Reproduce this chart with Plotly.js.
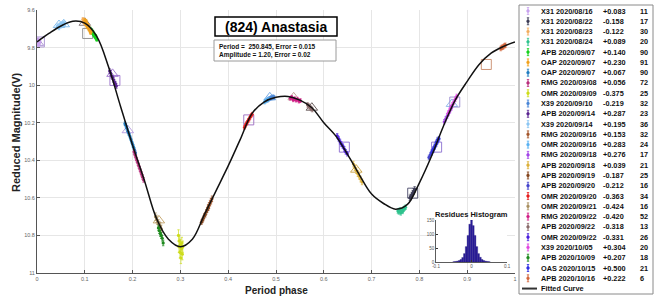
<!DOCTYPE html>
<html><head><meta charset="utf-8">
<script src="https://cdn.plot.ly/plotly-3.0.1.min.js"></script>
<style>html,body{margin:0;padding:0;background:#fff}#chart{width:655px;height:298px}</style>
</head><body><div id="chart"></div>
<script>
// ---------- data ----------
const sessionLabels = ["X31 2020/08/16","X31 2020/08/22","X31 2020/08/23","X31 2020/08/24","APB 2020/09/07","OAP 2020/09/07","OAP 2020/09/07","RMG 2020/09/08","OMR 2020/09/09","X39 2020/09/10","APB 2020/09/14","X39 2020/09/14","RMG 2020/09/16","OMR 2020/09/16","RMG 2020/09/18","APB 2020/09/18","APB 2020/09/19","APB 2020/09/20","OMR 2020/09/20","OMR 2020/09/21","RMG 2020/09/22","APB 2020/09/22","OMR 2020/09/22","X39 2020/10/05","APB 2020/10/09","OAS 2020/10/15","APB 2020/10/16"];
const sessionOffsets = ["+0.083","-0.158","-0.122","+0.089","+0.140","+0.230","+0.067","+0.056","-0.375","-0.219","+0.287","+0.195","+0.153","+0.283","+0.276","+0.039","-0.187","-0.212","-0.363","-0.424","-0.420","-0.318","-0.331","+0.304","+0.207","+0.500","+0.222"];
const sessionCounts = [11,17,30,20,90,91,90,72,25,32,23,36,32,24,17,21,25,16,34,16,52,13,26,20,18,21,6];
const sessionErr = [0.012,0.015,0.010,0.012,0.008,0.010,0.010,0.012,0.030,0.010,0.012,0.010,0.015,0.010,0.012,0.015,0.012,0.012,0.010,0.020,0.010,0.012,0.012,0.012,0.015,0.012,0.012];

const sessionPhases = [
 [0.001,0.002,0.003,0.004,0.005,0.006,0.003,0.005],
 [0.780,0.782,0.784,0.786,0.788,0.790],
 [0.096,0.097,0.098,0.099,0.100,0.101,0.102],
 [0.755,0.757,0.759,0.761,0.763,0.765,0.767,0.769,0.771],
 [0.112,0.113,0.114,0.115,0.116,0.117,0.118,0.119,0.120,0.121,0.122,0.123,0.124,0.125],
 [0.100,0.101,0.102,0.103,0.104,0.105,0.106,0.107,0.108,0.109,0.110,0.111,0.112,0.113],
 [0.184,0.186,0.188,0.190,0.192,0.194,0.196,0.198,0.200,0.202,0.204,0.206],
 [0.203,0.205,0.207,0.209,0.211,0.213,0.215,0.217,0.219,0.221,0.223],
 [0.296,0.297,0.298,0.299,0.300,0.301,0.302,0.303,0.304,0.305],
 [0.482,0.484,0.486,0.488,0.490,0.492,0.494,0.496],
 [0.152,0.154,0.156,0.158,0.160,0.162,0.164,0.166],
 [0.042,0.044,0.046,0.048,0.050,0.052,0.054,0.056,0.058],
 [0.358,0.360,0.362,0.364,0.366],
 [0.476,0.478,0.480,0.482,0.484],
 [0.852,0.855,0.858,0.861,0.864,0.867],
 [0.662,0.665,0.668,0.671,0.674,0.677,0.680],
 [0.344,0.346,0.348,0.350,0.352,0.354,0.356,0.358],
 [0.820,0.823,0.826,0.829,0.832,0.835,0.838],
 [0.434,0.436,0.438,0.440,0.442,0.444,0.446,0.448,0.450],
 [0.248,0.250,0.252,0.254,0.256,0.258,0.260],
 [0.530,0.533,0.536,0.539,0.542,0.545,0.548,0.551],
 [0.566,0.568,0.570,0.572,0.574,0.576],
 [0.628,0.631,0.634,0.637,0.640,0.643,0.646,0.649],
 [0.860,0.863,0.866,0.869,0.872,0.875,0.878],
 [0.254,0.256,0.258,0.260,0.262,0.264],
 [0.826,0.829,0.832,0.835,0.838,0.841],
 [0.970,0.972,0.974,0.976,0.978,0.980]
];
const sessionMags = [
 [9.768,9.775,9.760,9.780,9.772,9.765,9.785,9.770],
 [10.600,10.595,10.585,10.575,10.565,10.555],
 [9.650,9.662,9.656,9.668,9.660,9.672,9.665],
 [10.670,10.675,10.665,10.680,10.668,10.672,10.660,10.655,10.650],
 [9.700,9.712,9.708,9.718,9.722,9.715,9.728,9.735,9.730,9.740,9.746,9.738,9.752,9.758],
 [9.655,9.668,9.672,9.660,9.685,9.676,9.690,9.682,9.700,9.694,9.705,9.712,9.720,9.716],
 [10.205,10.215,10.230,10.245,10.258,10.270,10.285,10.300,10.315,10.330,10.345,10.360],
 [10.355,10.370,10.385,10.400,10.415,10.430,10.445,10.460,10.475,10.490,10.505],
 [10.80,10.86,10.83,10.89,10.85,10.92,10.87,10.84,10.90,10.86],
 [10.080,10.075,10.072,10.070,10.066,10.068,10.062,10.065],
 [9.925,9.935,9.950,9.958,9.970,9.985,9.992,10.005],
 [9.690,9.683,9.695,9.678,9.686,9.672,9.680,9.668,9.676],
 [10.650,10.640,10.628,10.618,10.605],
 [10.090,10.085,10.082,10.078,10.075],
 [10.195,10.180,10.165,10.150,10.135,10.120],
 [10.420,10.440,10.455,10.470,10.485,10.500,10.515],
 [10.730,10.720,10.710,10.695,10.690,10.675,10.665,10.655],
 [10.385,10.370,10.355,10.340,10.325,10.305,10.290],
 [10.225,10.215,10.205,10.198,10.188,10.180,10.170,10.162,10.155],
 [10.700,10.712,10.722,10.735,10.745,10.752,10.765],
 [10.070,10.065,10.078,10.072,10.080,10.075,10.085,10.082],
 [10.105,10.110,10.115,10.120,10.125,10.130],
 [10.270,10.285,10.300,10.315,10.325,10.340,10.355,10.365],
 [10.150,10.135,10.120,10.105,10.090,10.075,10.060],
 [10.760,10.775,10.790,10.800,10.815,10.840],
 [10.360,10.345,10.330,10.315,10.300,10.285],
 [9.805,9.800,9.798,9.795,9.790,9.788]
];

// fitted curve
const curvePhase = [0,0.025,0.05,0.075,0.1,0.125,0.15,0.175,0.2,0.225,0.25,0.275,0.3,0.325,0.35,0.375,0.4,0.425,0.45,0.475,0.5,0.525,0.55,0.575,0.6,0.625,0.65,0.675,0.7,0.725,0.75,0.775,0.8,0.825,0.85,0.875,0.9,0.925,0.95,0.975,1.0];
const curveMag = [9.770,9.725,9.685,9.660,9.670,9.740,9.905,10.115,10.320,10.510,10.710,10.820,10.860,10.820,10.690,10.560,10.430,10.290,10.150,10.090,10.065,10.060,10.080,10.120,10.200,10.270,10.370,10.480,10.580,10.630,10.660,10.635,10.520,10.380,10.220,10.080,9.980,9.890,9.830,9.795,9.770];

// reference (large open) markers
const refPhase = [0.002,0.005,0.046,0.056,0.100,0.106,0.158,0.163,0.190,0.255,0.443,0.487,0.537,0.575,0.643,0.668,0.786,0.836,0.868,0.874,0.940];
const refMag = [9.775,9.770,9.680,9.676,9.668,9.725,9.940,9.975,10.240,10.720,10.185,10.065,10.065,10.120,10.330,10.450,10.575,10.330,10.100,10.090,9.890];

// residues histogram
const resBinCenters = [-0.05,-0.045,-0.04,-0.035,-0.03,-0.025,-0.02,-0.015,-0.01,-0.005,0,0.005,0.01,0.015,0.02,0.025,0.03,0.035,0.04,0.045,0.05];
const resCounts = [1,2,3,5,9,16,30,55,95,135,150,130,95,55,30,17,9,5,3,2,1];

const xTickVals = [0,0.1,0.2,0.3,0.4,0.5,0.6,0.7,0.8,0.9,1];
const xTickText = ["0","0.1","0.2","0.3","0.4","0.5","0.6","0.7","0.8","0.9","1"];
const yTickVals = [9.6,9.8,10,10.2,10.4,10.6,10.8,11];
const yTickText = ["9.6","9.8","10","10.2","10.4","10.6","10.8","11"];

// ---------- styles ----------
const sessionColors = ['#c9a3ef','#3b3b55','#f2ad5e','#2fc38e','#16d11c','#f0a11c','#1f7cc0','#b92f7c','#cddc1b','#4a86d6','#5a2590','#8cc6f3','#a4562b','#5ab2f2','#a345e8','#dcb13a','#85461f','#4444cc','#e61e1e','#a88f5f','#d01f85','#8a6a6a','#4b1fdc','#e046e0','#1e8a1e','#2f2fe4','#d2643a'];
const refSymbol = ['triangle-up-open','square-open','triangle-up-open','triangle-up-open','triangle-up-open','square-open','triangle-up-open','square-open','triangle-up-open','triangle-up-open','square-open','triangle-up-open','triangle-up-open','triangle-up-open','square-open','triangle-up-open','square-open','square-open','triangle-up-open','square-open','square-open'];
const refColor = ['#a88fd0','#a88fd0','#7ab8ea','#7ab8ea','#7d6f6f','#8a8a8a','#9b72cc','#9b72cc','#b59be0','#c2a266','#9a6ac0','#6aa2e2','#b8998a','#5e5050','#8a6ad0','#c8a040','#4a4a6a','#8a70d0','#8ab4ea','#9a8ad0','#c88a6a'];

const FONT = 'Liberation Sans, Arial, sans-serif';
const PL = 37, PR = 515, PT = 10, PB = 273;
const px = x => (x - PL) / (PR - PL);
const py = y => (PB - y) / (PB - PT);

const traces = [];
traces.push({type:'scatter', mode:'markers', x:refPhase, y:refMag, hoverinfo:'skip', showlegend:false,
  marker:{symbol:refSymbol, size:10, color:refColor, line:{width:0.9, color:refColor}}});
sessionPhases.forEach((ph, i) => {
  traces.push({type:'scatter', mode:'markers', x:ph, y:sessionMags[i], name:sessionLabels[i], showlegend:false,
    marker:{size:3.2, color:sessionColors[i]},
    error_y:{type:'data', array:ph.map(() => sessionErr[i]), color:sessionColors[i], thickness:0.7, width:1.2}});
});
traces.push({type:'scatter', mode:'lines', x:curvePhase, y:curveMag, name:'Fitted Curve', showlegend:false,
  line:{color:'#111', width:1.5, shape:'spline', smoothing:1}});
traces.push({type:'bar', x:resBinCenters, y:resCounts, xaxis:'x3', yaxis:'y3', showlegend:false,
  width:0.005, marker:{color:'#2b1d9c', line:{color:'#1a1070', width:0.3}}});

const shapes = [];
const annotations = [];
// title box
shapes.push({type:'rect', xref:'paper', yref:'paper', x0:px(215), x1:px(337), y0:py(36), y1:py(17), line:{color:'#000', width:1.5}, fillcolor:'#fff'});
annotations.push({xref:'paper', yref:'paper', x:px(276), y:py(26.5), text:'(824) Anastasia', showarrow:false,
  font:{family:FONT, size:14, color:'#000', weight:'bold'}, xanchor:'center', yanchor:'middle'});
// info box
shapes.push({type:'rect', xref:'paper', yref:'paper', x0:px(214), x1:px(336), y0:py(61), y1:py(40), line:{color:'#9a9a9a', width:1}, fillcolor:'#fff'});
annotations.push({xref:'paper', yref:'paper', x:px(217), y:py(46.5), text:'Period =  250.845, Error = 0.015', showarrow:false,
  font:{family:FONT, size:6.5, color:'#111', weight:'bold'}, xanchor:'left', yanchor:'middle'});
annotations.push({xref:'paper', yref:'paper', x:px(217), y:py(55), text:'Amplitude = 1.20, Error = 0.02', showarrow:false,
  font:{family:FONT, size:6.5, color:'#111', weight:'bold'}, xanchor:'left', yanchor:'middle'});
// axis titles
annotations.push({xref:'paper', yref:'paper', x:px(16), y:py(132), text:'Reduced Magnitude(V)', textangle:-90, showarrow:false,
  font:{family:FONT, size:11, color:'#222', weight:'bold'}, xanchor:'center', yanchor:'middle'});
annotations.push({xref:'paper', yref:'paper', x:px(276), y:py(290), text:'Period phase', showarrow:false,
  font:{family:FONT, size:10, color:'#222', weight:'bold'}, xanchor:'center', yanchor:'middle'});
// histogram title
annotations.push({xref:'paper', yref:'paper', x:px(471), y:py(214), text:'Residues Histogram', showarrow:false,
  font:{family:FONT, size:7.5, color:'#111', weight:'bold'}, xanchor:'center', yanchor:'middle'});

// custom legend
shapes.push({type:'rect', xref:'paper', yref:'paper', x0:px(519), x1:px(653), y0:py(294), y1:py(5), line:{color:'#8a8a8a', width:1}, fillcolor:'#fff'});
const rowY = i => 11 + i * 10.28;
sessionLabels.forEach((lab, i) => {
  const yy = rowY(i), c = sessionColors[i];
  shapes.push({type:'line', xref:'paper', yref:'paper', x0:px(528), x1:px(528), y0:py(yy-3.5), y1:py(yy+3.5), line:{color:c, width:1}});
  shapes.push({type:'line', xref:'paper', yref:'paper', x0:px(526.8), x1:px(529.2), y0:py(yy-3.5), y1:py(yy-3.5), line:{color:c, width:0.8}});
  shapes.push({type:'line', xref:'paper', yref:'paper', x0:px(526.8), x1:px(529.2), y0:py(yy+3.5), y1:py(yy+3.5), line:{color:c, width:0.8}});
  shapes.push({type:'circle', xref:'paper', yref:'paper', x0:px(526.6), x1:px(529.4), y0:py(yy+1.4), y1:py(yy-1.4), line:{color:c, width:0.5}, fillcolor:c});
  annotations.push({xref:'paper', yref:'paper', x:px(539), y:py(yy), text:lab, showarrow:false,
    font:{family:FONT, size:7.3, color:'#111', weight:'bold'}, xanchor:'left', yanchor:'middle'});
  annotations.push({xref:'paper', yref:'paper', x:px(601), y:py(yy), text:sessionOffsets[i], showarrow:false,
    font:{family:FONT, size:7.3, color:'#111', weight:'bold'}, xanchor:'left', yanchor:'middle'});
  annotations.push({xref:'paper', yref:'paper', x:px(638), y:py(yy), text:String(sessionCounts[i]), showarrow:false,
    font:{family:FONT, size:7.3, color:'#111', weight:'bold'}, xanchor:'left', yanchor:'middle'});
});
const fy = rowY(27);
shapes.push({type:'line', xref:'paper', yref:'paper', x0:px(522), x1:px(537), y0:py(fy), y1:py(fy), line:{color:'#333', width:2}});
annotations.push({xref:'paper', yref:'paper', x:px(539), y:py(fy), text:'Fitted Curve', showarrow:false,
  font:{family:FONT, size:7.3, color:'#111', weight:'bold'}, xanchor:'left', yanchor:'middle'});

const layout = {
  width:655, height:298,
  margin:{l:PL, r:655-PR, t:PT, b:298-PB, pad:0},
  paper_bgcolor:'#fff', plot_bgcolor:'#fff',
  showlegend:false, bargap:0,
  font:{family:FONT},
  xaxis:{range:[0,1], tickvals:xTickVals, ticktext:xTickText, showgrid:true, gridcolor:'#e6e6e6', gridwidth:1,
    zeroline:false, showline:true, linecolor:'#555', linewidth:1, ticks:'inside', ticklen:3, tickcolor:'#555',
    tickfont:{size:5.5, color:'#666', family:FONT}},
  yaxis:{range:[11,9.6], tickvals:yTickVals, ticktext:yTickText, showgrid:true, gridcolor:'#e6e6e6', gridwidth:1,
    zeroline:false, showline:true, linecolor:'#555', linewidth:1, ticks:'inside', ticklen:3, tickcolor:'#555',
    tickfont:{size:5.5, color:'#666', family:FONT}},
  xaxis3:{domain:[px(436), px(507)], anchor:'y3', range:[-0.1,0.1], tickvals:[-0.1,0,0.1], ticktext:['-0.1','0','0.1'],
    showgrid:false, zeroline:false, showline:true, linecolor:'#333', linewidth:0.8, ticks:'inside', ticklen:2, tickcolor:'#333',
    tickfont:{size:4.5, color:'#555', family:FONT}},
  yaxis3:{domain:[py(262), py(220)], anchor:'x3', range:[0,150], tickvals:[0,50,100,150],
    showgrid:false, zeroline:false, showline:true, linecolor:'#333', linewidth:0.8, ticks:'inside', ticklen:2, tickcolor:'#333',
    tickfont:{size:4.5, color:'#555', family:FONT}},
  shapes:shapes, annotations:annotations
};
Plotly.newPlot('chart', traces, layout, {displayModeBar:false, staticPlot:true});
</script>
</body></html>
